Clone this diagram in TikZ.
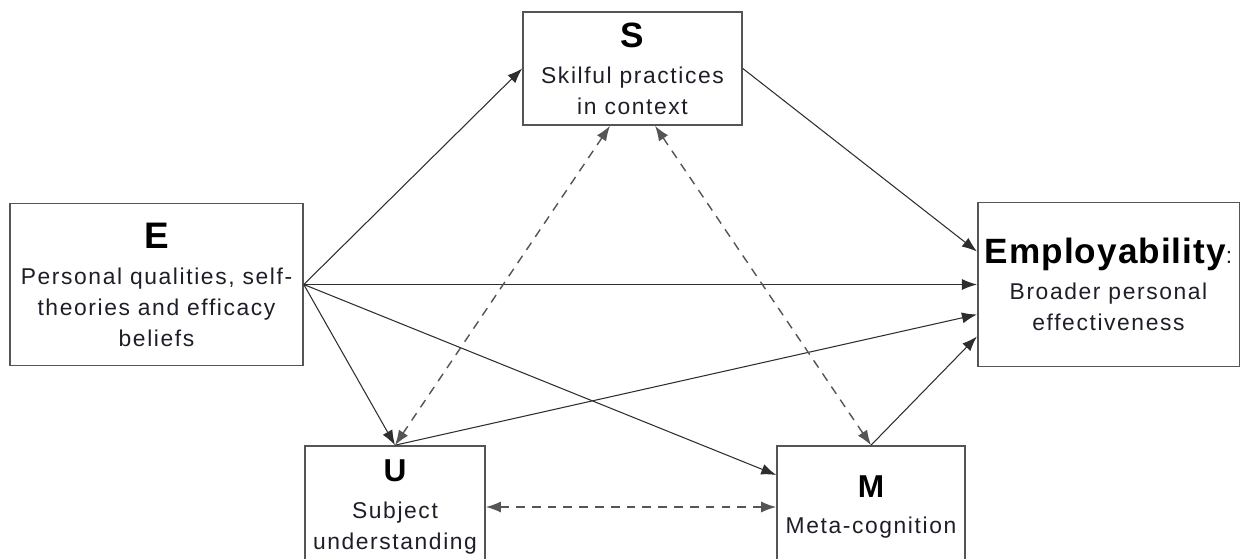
\documentclass[tikz,border=0pt]{standalone}
\usepackage{fontspec}
\setmainfont{Liberation Sans}
\usetikzlibrary{arrows.meta}
\definecolor{edgegray}{HTML}{555555}
\definecolor{linegray}{HTML}{2E2E2E}
\definecolor{txtgray}{HTML}{1E1E28}
% bold letter heading on top of a box
\newcommand{\hd}[2]{{\fontsize{#1}{#1}\selectfont\bfseries\color{black}#2}\\[3pt]}
\tikzset{
  >=Latex,
  box/.style={
    draw=edgegray, fill=white, line width=0.9pt, align=center,
    inner sep=4pt, text=txtgray,
    font=\fontsize{13}{17.6}\selectfont\addfontfeatures{LetterSpace=7}
  },
  arr/.style={-{Latex[length=3mm,width=2.2mm]}, line width=0.6pt, draw=linegray},
  dasharr/.style={
    {Latex[length=3mm,width=2.2mm]}-{Latex[length=3mm,width=2.2mm]},
    line width=0.8pt, draw=edgegray, dash pattern=on 5pt off 4pt
  }
}
\begin{document}
\begin{tikzpicture}
  \useasboundingbox (0,0) rectangle (24.92,11.16);
  \clip (0,0) rectangle (24.92,11.16);
  % the five blocks
  \node[box, minimum width=5.86cm, minimum height=3.24cm] (E) at (3.13,5.47)
    {\hd{21}{E}Personal qualities, self-\\theories and efficacy\\beliefs};
  \node[box, minimum width=4.38cm, minimum height=2.26cm] (S) at (12.65,9.79)
    {\hd{20}{S}Skilful practices\\in context};
  \node[box, minimum width=5.18cm, minimum height=3.28cm] (Emp) at (22.17,5.47)
    {{\fontsize{20}{20}\selectfont\addfontfeatures{LetterSpace=3}\bfseries\color{black}Employability}:\\[3pt]Broader personal\\effectiveness};
  \node[box, minimum width=3.60cm, minimum height=2.44cm] (U) at (7.90,1.02)
    {\hd{18}{U}Subject\\understanding};
  \node[box, minimum width=3.76cm, minimum height=2.44cm] (M) at (17.42,1.02)
    {\hd{18}{M}Meta-cognition};
  % direct influences
  \draw[arr] (E.east) -- (S.west);
  \draw[arr] (E.east) -- (Emp.west);
  \draw[arr] (E.east) -- ([yshift=6.4mm]M.west);
  \draw[arr] (E.east) -- (U.north);
  \draw[arr] (S.east) -- ([yshift=6.6mm]Emp.west);
  \draw[arr] (U.north) -- ([yshift=-6mm]Emp.west);
  \draw[arr] (M.north) -- ([yshift=-10.4mm]Emp.west);
  % two-way links
  \draw[dasharr] ([xshift=-4.5mm]S.south) -- (U.north);
  \draw[dasharr] ([xshift=4.5mm]S.south) -- (M.north);
  \draw[dasharr] (U.east) -- (M.west);
\end{tikzpicture}
\end{document}
